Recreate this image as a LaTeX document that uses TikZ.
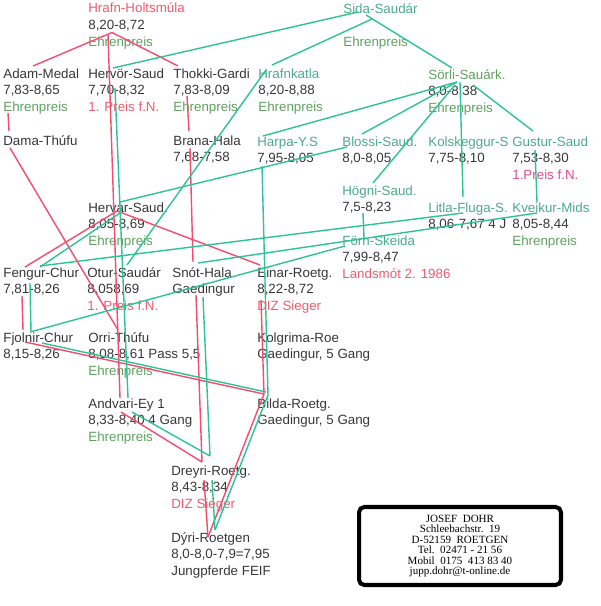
\documentclass[tikz,border=0pt]{standalone}
\usepackage{fontspec}
\setmainfont{Liberation Sans}
\newfontfamily\stampfont{Liberation Serif}

\definecolor{ink}{RGB}{55,55,55}
\definecolor{namered}{RGB}{240,90,110}
\definecolor{namepink}{RGB}{225,75,150}
\definecolor{namegreen}{RGB}{75,170,140}
\definecolor{prize}{RGB}{95,160,95}
\definecolor{redline}{RGB}{245,75,110}
\definecolor{greenline}{RGB}{45,195,150}

\newcommand\ehren{\textcolor{prize}{Ehrenpreis}}
\newcommand\horselines[1]{\begin{tabular}[t]{@{}l@{}}#1\end{tabular}}

\tikzset{
  horse/.style={anchor=base west, inner sep=0pt, text=ink,
    font=\fontsize{7.6}{9.67}\selectfont},
  sire/.style={draw=redline, line width=0.8pt},
  dam/.style={draw=greenline, line width=0.8pt},
  stampbox/.style={draw=black, line width=2.3pt, rounded corners=3pt,
    minimum width=4.04cm, minimum height=1.56cm, align=center,
    font=\stampfont\fontsize{6.3}{5.95}\selectfont}
}

\begin{document}
\begin{tikzpicture}[x=0.02cm, y=-0.02cm]
  \useasboundingbox (0,0) rectangle (600,606);
  % horses, row by row
  \node[horse] (hrafn) at (88,12.5) {\horselines{\textcolor{namered}{Hrafn-Holtsmúla}\\8,20-8,72\\\ehren}};
  \node[horse] (sida) at (343,13) {\horselines{\textcolor{namegreen}{Sida-Saudár}\\\mbox{}\\\ehren}};
  \node[horse] (adam) at (3,78) {\horselines{Adam-Medal\\7,83-8,65\\\ehren}};
  \node[horse] (hervor) at (88,78) {\horselines{Hervör-Saud\\7,70-8,32\\\textcolor{namered}{1. Preis f.N.}}};
  \node[horse] (thokki) at (173,78) {\horselines{Thokki-Gardi\\7,83-8,09\\\ehren}};
  \node[horse] (hrafnkatla) at (258,78) {\horselines{\textcolor{namegreen}{Hrafnkatla}\\8,20-8,88\\\ehren}};
  \node[horse] (sorli) at (428,79) {\horselines{\textcolor{prize}{Sörli-Sauárk.}\\8,0-8,38\\\ehren}};
  \node[horse] (dama) at (3,145) {Dama-Thúfu};
  \node[horse] (brana) at (173,145) {\horselines{Brana-Hala\\7,68-7,58}};
  \node[horse] (harpa) at (257,146) {\horselines{\textcolor{namegreen}{Harpa-Y.S}\\7,95-8,05}};
  \node[horse] (blossi) at (342,146) {\horselines{\textcolor{namegreen}{Blossi-Saud.}\\8,0-8,05}};
  \node[horse] (kolskeggur) at (428,146) {\horselines{\textcolor{namegreen}{Kolskeggur-S}\\7,75-8,10}};
  \node[horse] (gustur) at (512,146) {\horselines{\textcolor{namegreen}{Gustur-Saud}\\7,53-8,30\\\textcolor{namepink}{1.Preis f.N.}}};
  \node[horse] (hogni) at (342,195) {\horselines{\textcolor{namegreen}{Högni-Saud.}\\7,5-8,23}};
  \node[horse] (hervar) at (88,212) {\horselines{Hervar-Saud.\\8,05-8,69\\\ehren}};
  \node[horse] (litla) at (428,212) {\horselines{\textcolor{namegreen}{Litla-Fluga-S.}\\8,06-7,67 4 J}};
  \node[horse] (kveikur) at (512,212) {\horselines{\textcolor{namegreen}{Kveikur-Mids}\\8,05-8,44\\\ehren}};
  \node[horse] (forn) at (342,245) {\horselines{\textcolor{namegreen}{Förn-Skeida}\\7,99-8,47\\\textcolor{namered}{Landsmót 2. 1986}}};
  \node[horse] (fengur) at (3,277) {\horselines{Fengur-Chur\\7,81-8,26}};
  \node[horse] (otur) at (87,277) {\horselines{Otur-Saudár\\8,058,69\\\textcolor{namered}{1. Preis f.N.}}};
  \node[horse] (snot) at (172,277) {\horselines{Snót-Hala\\Gaedingur}};
  \node[horse] (einar) at (257,277) {\horselines{Einar-Roetg.\\8,22-8,72\\\textcolor{namered}{DIZ Sieger}}};
  \node[horse] (fjolnir) at (3,342) {\horselines{Fjolnir-Chur\\8,15-8,26}};
  \node[horse] (orri) at (88,342) {\horselines{Orri-Thúfu\\8,08-8,61 Pass 5,5\\\ehren}};
  \node[horse] (kolgrima) at (257,342) {\horselines{Kolgrima-Roe\\Gaedingur, 5 Gang}};
  \node[horse] (andvari) at (88,408) {\horselines{Andvari-Ey 1\\8,33-8,40 4 Gang\\\ehren}};
  \node[horse] (bilda) at (257,408) {\horselines{Bilda-Roetg.\\Gaedingur, 5 Gang}};
  \node[horse] (dreyri) at (171,475) {\horselines{Dreyri-Roetg.\\8,43-8,34\\\textcolor{namered}{DIZ Sieger}}};
  \node[horse] (dyri) at (171,542) {\horselines{Dýri-Roetgen\\8,0-8,0-7,9=7,95\\Jungpferde FEIF}};
  % address stamp
  \node[stampbox] (stamp) at (460,546) {JOSEF\ \ DOHR\\Schleebachstr.\ \ 19\\D-52159\ \ ROETGEN\\
    Tel.\ \ 02471 - 21 56\\Mobil\ \ 0175\ \ 413 83 40\\jupp.dohr@t-online.de};
  % red lines
  \draw[sire] ([shift={(24,20)}]hrafn.base west) -- ([shift={(30,-12)}]adam.base west);
  \draw[sire] ([shift={(24,20)}]hrafn.base west) -- ([shift={(5,-12)}]thokki.base west);
  \draw[sire] ([shift={(20,22)}]hrafn.base west) -- ([shift={(32,-10)}]andvari.base west);
  \draw[sire] ([shift={(5,35)}]adam.base west) -- ([shift={(6,-14)}]dama.base west);
  \draw[sire] ([shift={(7,3)}]dama.base west) -- ([shift={(30,-12)}]orri.base west);
  \draw[sire] ([shift={(14,18)}]thokki.base west) -- ([shift={(16,-14)}]brana.base west);
  \draw[sire] ([shift={(17,3)}]brana.base west) -- ([shift={(21,-15)}]snot.base west);
  \draw[sire] ([shift={(29,-1)}]hervar.base west) -- ([shift={(22,-10)}]fengur.base west);
  \draw[sire] ([shift={(29,-1)}]hervar.base west) -- ([shift={(3,-12)}]einar.base west);
  \draw[sire] ([shift={(19,19)}]fengur.base west) -- ([shift={(20,-12)}]fjolnir.base west);
  \draw[sire] ([shift={(22,0)}]fjolnir.base west) -- ([shift={(7,-14)}]bilda.base west);
  \draw[sire] ([shift={(4,23)}]einar.base west) -- ([shift={(7,-14)}]bilda.base west);
  \draw[sire] ([shift={(24,18)}]snot.base west) -- ([shift={(31,-13)}]dreyri.base west);
  \draw[sire] ([shift={(33,4)}]andvari.base west) -- ([shift={(31,-13)}]dreyri.base west);
  \draw[sire] ([shift={(7,-14)}]bilda.base west) -- ([shift={(37,-5)}]dyri.base west);
  \draw[sire] ([shift={(33,5)}]dreyri.base west) -- ([shift={(37,-5)}]dyri.base west);
  % green lines
  \draw[dam] ([shift={(15,-1)}]sida.base west) -- ([shift={(25,-10)}]hervor.base west);
  \draw[dam] ([shift={(29,6)}]sida.base west) -- ([shift={(14,-13)}]hrafnkatla.base west);
  \draw[dam] ([shift={(23,2)}]sida.base west) -- ([shift={(24,-11)}]sorli.base west);
  \draw[dam] ([shift={(29,3)}]sorli.base west) -- ([shift={(6,-10)}]harpa.base west);
  \draw[dam] ([shift={(29,3)}]sorli.base west) -- ([shift={(20,-12)}]blossi.base west);
  \draw[dam] ([shift={(27,6)}]sorli.base west) -- ([shift={(31,-12)}]hogni.base west);
  \draw[dam] ([shift={(32,3)}]sorli.base west) -- ([shift={(35,-15)}]litla.base west);
  \draw[dam] ([shift={(45,6)}]sorli.base west) -- ([shift={(21,-15)}]gustur.base west);
  \draw[dam] ([shift={(23,4)}]gustur.base west) -- ([shift={(25,-10)}]kveikur.base west);
  \draw[dam] ([shift={(8,-8)}]hrafnkatla.base west) -- ([shift={(40,-12)}]otur.base west);
  \draw[dam] ([shift={(5,20)}]harpa.base west) -- ([shift={(11,-13)}]bilda.base west);
  \draw[dam] ([shift={(5,1)}]blossi.base west) -- ([shift={(32,-10)}]hervar.base west);
  \draw[dam] ([shift={(32,1)}]hervar.base west) -- ([shift={(37,-10)}]fengur.base west);
  \draw[dam] ([shift={(27,10)}]hervor.base west) -- ([shift={(40,-10)}]andvari.base west);
  \draw[dam] ([shift={(27,6)}]fengur.base west) -- ([shift={(28,-10)}]fjolnir.base west);
  \draw[dam] ([shift={(39,1)}]fjolnir.base west) -- ([shift={(9,-16)}]bilda.base west);
  \draw[dam] ([shift={(3,1)}]forn.base west) -- ([shift={(27,-10)}]fjolnir.base west);
  \draw[dam] ([shift={(35,1)}]litla.base west) -- ([shift={(37,-11)}]fengur.base west);
  \draw[dam] ([shift={(25,1)}]kveikur.base west) -- ([shift={(26,-14)}]snot.base west);
  \draw[dam] ([shift={(21,18)}]hogni.base west) -- ([shift={(22,-7)}]forn.base west);
  \draw[dam] ([shift={(31,20)}]snot.base west) -- ([shift={(39,-19)}]dreyri.base west);
  \draw[dam] ([shift={(44,4)}]andvari.base west) -- ([shift={(39,-19)}]dreyri.base west);
  \draw[dam] ([shift={(41,5)}]dreyri.base west) -- ([shift={(44,-12)}]dyri.base west);
  \draw[dam] ([shift={(11,-13)}]bilda.base west) -- ([shift={(44,-12)}]dyri.base west);
\end{tikzpicture}
\end{document}
